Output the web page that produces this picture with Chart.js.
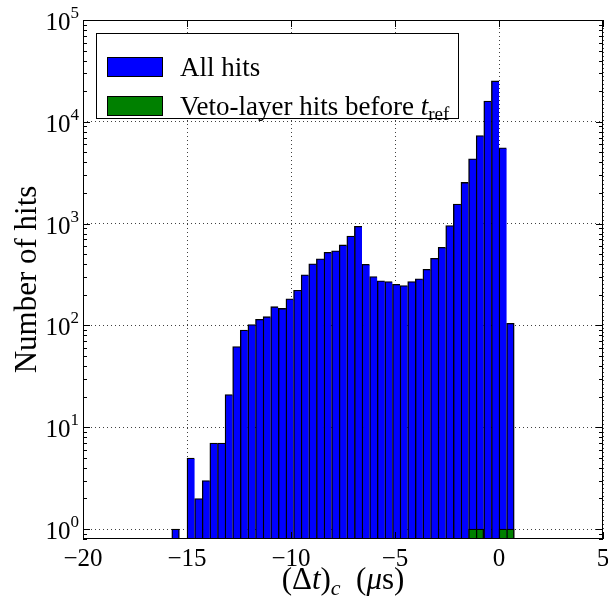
<!DOCTYPE html>
<html>
<head>
<meta charset="utf-8">
<style>
  html, body { margin: 0; padding: 0; background: #fff; }
</style>
</head>
<body>
<canvas id="histo" width="608" height="601"></canvas>
<script src="https://cdn.jsdelivr.net/npm/chart.js@4.4.1/dist/chart.umd.min.js"></script>
<script>
// 45 equal bins of (Δt)_c, first bin starts at -15.73 us
const binStart = -15.7317;
const binWidth = 15 / 41;

const allHits = [
  1, 0, 5, 2, 3, 7, 7, 21, 62, 90,
  102, 115, 122, 153, 147, 183, 222, 314, 403, 451,
  523, 540, 618, 757, 941, 399, 302, 274, 270, 254,
  247, 270, 287, 356, 457, 586, 956, 1560, 2540, 4340,
  7340, 15960, 25200, 5560, 105
];
const vetoHits = [
  0, 0, 0, 0, 0, 0, 0, 0, 0, 0,
  0, 0, 0, 0, 0, 0, 0, 0, 0, 0,
  0, 0, 0, 0, 0, 0, 0, 0, 0, 0,
  0, 0, 0, 0, 0, 0, 0, 0, 0, 1,
  1, 0, 0, 1, 1
];
const xTicks = [-20, -15, -10, -5, 0, 5];
const yTicks = [1, 10, 100, 1000, 10000, 100000];

const FONT = "'Liberation Serif', 'DejaVu Serif', serif";
const binCenters = allHits.map((_, i) => binStart + (i + 0.5) * binWidth);

function toPoints(counts) {
  return binCenters.map((x, i) => ({ x: x, y: counts[i] > 0 ? counts[i] : null }));
}

// only the outer right edge of a run of bars gets a right border,
// so neighbouring bars share one dark line
function edges(counts) {
  return function (ctx) {
    const i = ctx.dataIndex;
    const next = counts[i + 1] || 0;
    return { top: 1.3, left: 1.4, right: next > 0 ? 0 : 1.4, bottom: 0 };
  };
}

// text made of pieces: plain, italic, subscript
function richWidth(ctx, parts, size) {
  let w = 0;
  parts.forEach(p => {
    ctx.font = (p.i ? 'italic ' : '') + Math.round(p.sub ? size * 0.7 : size) + 'px ' + FONT;
    w += ctx.measureText(p.t).width;
  });
  return w;
}
function drawRich(ctx, parts, x, y, size) {
  parts.forEach(p => {
    ctx.font = (p.i ? 'italic ' : '') + Math.round(p.sub ? size * 0.7 : size) + 'px ' + FONT;
    ctx.fillText(p.t, x, p.sub ? y + size * 0.2 : y);
    x += ctx.measureText(p.t).width;
  });
}

const framePlugin = {
  id: 'frame',
  afterDraw(chart) {
    const ctx = chart.ctx;
    const a = chart.chartArea;
    const xs = chart.scales.x, ys = chart.scales.y;
    ctx.save();
    ctx.strokeStyle = '#000';
    ctx.fillStyle = '#000';
    ctx.lineWidth = 1;

    // axes box
    ctx.strokeRect(Math.round(a.left) + 0.5, Math.round(a.top) + 0.5,
      Math.round(a.right - a.left) - 1, Math.round(a.bottom - a.top) - 1);

    // inward ticks on all four sides
    ctx.beginPath();
    xTicks.forEach(v => {
      const px = Math.round(xs.getPixelForValue(v)) + 0.5;
      ctx.moveTo(px, a.bottom); ctx.lineTo(px, a.bottom - 7);
      ctx.moveTo(px, a.top); ctx.lineTo(px, a.top + 7);
    });
    yTicks.forEach(v => {
      const py = Math.round(ys.getPixelForValue(v)) + 0.5;
      ctx.moveTo(a.left, py); ctx.lineTo(a.left + 7, py);
      ctx.moveTo(a.right, py); ctx.lineTo(a.right - 7, py);
    });
    for (let d = 0.1; d < 1e5; d *= 10) {
      for (let m = 2; m <= 9; m++) {
        const v = m * d;
        if (v < ys.min || v > ys.max) continue;
        const py = Math.round(ys.getPixelForValue(v)) + 0.5;
        ctx.moveTo(a.left, py); ctx.lineTo(a.left + 4, py);
        ctx.moveTo(a.right, py); ctx.lineTo(a.right - 4, py);
      }
    }
    ctx.stroke();

    // y tick labels 10^n
    ctx.textAlign = 'left';
    ctx.textBaseline = 'alphabetic';
    yTicks.forEach(v => {
      const py = ys.getPixelForValue(v);
      const exp = String(Math.round(Math.log10(v)));
      ctx.font = '17px ' + FONT;
      const we = ctx.measureText(exp).width;
      ctx.font = '25px ' + FONT;
      const wb = ctx.measureText('10').width;
      const xEnd = a.left - 4;
      ctx.fillText('10', xEnd - we - wb, py + 10);
      ctx.font = '17px ' + FONT;
      ctx.fillText(exp, xEnd - we, py - 2);
    });

    // x axis title
    const title = [
      { t: '(Δ' }, { t: 't', i: true }, { t: ')' }, { t: 'c', i: true, sub: true },
      { t: '  (' }, { t: 'μ', i: true }, { t: 's)' }
    ];
    const tw = richWidth(ctx, title, 31);
    drawRich(ctx, title, (a.left + a.right) / 2 - tw / 2, 589, 31);

    // legend
    const lx = a.left + 13, ly = a.top + 13;
    ctx.fillStyle = '#fff';
    ctx.fillRect(lx, ly, 362, 85);
    ctx.strokeRect(lx + 0.5, ly + 0.5, 362, 85);
    [['#0000ff', 24], ['#008000', 63]].forEach(([c, dy]) => {
      ctx.fillStyle = c;
      ctx.fillRect(lx + 11, ly + dy, 55, 19);
      ctx.strokeRect(lx + 11.5, ly + dy + 0.5, 55, 19);
    });
    ctx.fillStyle = '#000';
    drawRich(ctx, [{ t: 'All hits' }], lx + 84, ly + 43, 27);
    drawRich(ctx, [{ t: 'Veto-layer hits before ' }, { t: 't', i: true }, { t: 'ref', sub: true }],
      lx + 84, ly + 82, 27);
    ctx.restore();
  }
};

new Chart(document.getElementById('histo'), {
  type: 'bar',
  data: {
    datasets: [
      {
        label: 'Veto-layer hits before t_ref',
        data: toPoints(vetoHits),
        backgroundColor: '#008000',
        borderColor: '#000',
        borderWidth: edges(vetoHits),
        grouped: false,
        barPercentage: 1,
        categoryPercentage: 1,
        order: 0
      },
      {
        label: 'All hits',
        data: toPoints(allHits),
        backgroundColor: '#0000ff',
        borderColor: '#000',
        borderWidth: edges(allHits),
        grouped: false,
        barPercentage: 1,
        categoryPercentage: 1,
        order: 1
      }
    ]
  },
  options: {
    responsive: false,
    animation: false,
    devicePixelRatio: 1,
    layout: { padding: { left: 0, right: 5, top: 20, bottom: 0 } },
    plugins: {
      legend: { display: false },
      tooltip: { enabled: false }
    },
    scales: {
      x: {
        type: 'linear',
        min: -20,
        max: 5,
        offset: false,
        z: 1,
        afterBuildTicks: s => { s.ticks = xTicks.map(v => ({ value: v })); },
        afterFit: s => { s.height = 62; s.paddingLeft = 0; s.paddingRight = 0; },
        grid: { color: 'rgba(0,0,0,0.75)', lineWidth: 1, drawTicks: false, offset: false },
        border: { display: false, dash: [1, 3] },
        ticks: {
          color: '#000',
          padding: 5,
          maxRotation: 0,
          font: { family: FONT, size: 25 },
          callback: v => (v < 0 ? '\u2212' + (-v) : String(v))
        }
      },
      y: {
        type: 'logarithmic',
        min: 0.8,
        max: 100000,
        z: 1,
        afterBuildTicks: s => { s.ticks = yTicks.map(v => ({ value: v })); },
        afterFit: s => { s.width = 83; },
        grid: { color: 'rgba(0,0,0,0.75)', lineWidth: 1, drawTicks: false },
        border: { display: false, dash: [1, 3] },
        ticks: { display: false },
        title: {
          display: true,
          text: 'Number of hits',
          color: '#000',
          padding: { top: 9 },
          font: { family: FONT, size: 31 }
        }
      }
    }
  },
  plugins: [framePlugin]
});
</script>
</body>
</html>
